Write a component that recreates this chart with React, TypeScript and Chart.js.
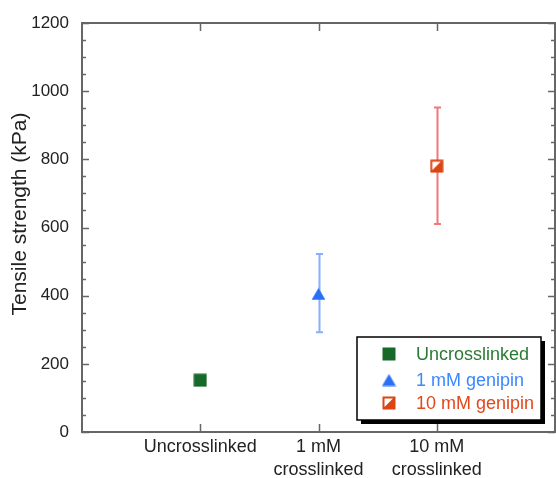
import React, { useEffect, useRef } from "react";
import { Chart, registerables } from "chart.js";

Chart.register(...registerables);

// ---- data ----
const categoryLabels: string[][] = [["Uncrosslinked"], ["1 mM", "crosslinked"], ["10 mM", "crosslinked"]];
const categoryPositions = [1, 2, 3];
const seriesNames = ["Uncrosslinked", "1 mM genipin", "10 mM genipin"];
const meanValues = [152, 405, 780];
const errorLow: (number | null)[] = [null, 293, 610];
const errorHigh: (number | null)[] = [null, 522, 952];
const yTickValues = [0, 200, 400, 600, 800, 1000, 1200];
const yMinorStep = 50;
const yTitle = "Tensile strength (kPa)";

// ---- styles ----
const markerColors = ["#17692a", "#2b6ff5", "#dc4410"];
const textColors = ["#2a7a34", "#3b88ff", "#e2481c"];
const errorColors = ["#6aa06a", "#86afff", "#f2787a"];
const FONT = "'Liberation Sans', Arial, Helvetica, sans-serif";
const frameColor = "#666";

function makeMarker(kind: number, color: string): HTMLCanvasElement {
  const c = document.createElement("canvas");
  if (kind === 0) {
    c.width = 14; c.height = 14;
    const g = c.getContext("2d")!;
    g.fillStyle = color;
    g.fillRect(0.5, 0.5, 13, 13);
  } else if (kind === 1) {
    c.width = 15; c.height = 13;
    const g = c.getContext("2d")!;
    g.fillStyle = color;
    g.beginPath();
    g.moveTo(7.5, 0.5);
    g.lineTo(14.5, 12.5);
    g.lineTo(0.5, 12.5);
    g.closePath();
    g.fill();
  } else {
    c.width = 14; c.height = 14;
    const g = c.getContext("2d")!;
    g.fillStyle = color;
    g.fillRect(0.5, 0.5, 13, 13);
    g.fillStyle = "#ffffff";
    g.beginPath();
    g.moveTo(2.5, 2.5);
    g.lineTo(11, 2.5);
    g.lineTo(2.5, 11);
    g.closePath();
    g.fill();
  }
  return c;
}

export default function App() {
  const ref = useRef<HTMLCanvasElement | null>(null);

  useEffect(() => {
    document.body.style.margin = "0";
    const canvas = ref.current!;
    const markers = markerColors.map((col, i) => makeMarker(i, col));

    const errorBars = {
      id: "errorBars",
      beforeDatasetsDraw(chart: any) {
        const { ctx, scales } = chart;
        const xs = scales.x, ys = scales.y;
        ctx.save();
        ctx.lineWidth = 2;
        categoryPositions.forEach((pos, i) => {
          const lo = errorLow[i], hi = errorHigh[i];
          if (lo == null || hi == null) return;
          const x = Math.round(xs.getPixelForValue(pos)) + 0.5;
          const y1 = ys.getPixelForValue(lo), y2 = ys.getPixelForValue(hi);
          ctx.strokeStyle = errorColors[i];
          ctx.beginPath();
          ctx.moveTo(x, y1); ctx.lineTo(x, y2);
          ctx.moveTo(x - 3.5, y1); ctx.lineTo(x + 3.5, y1);
          ctx.moveTo(x - 3.5, y2); ctx.lineTo(x + 3.5, y2);
          ctx.stroke();
        });
        ctx.restore();
      },
    };

    const frame = {
      id: "frame",
      beforeDatasetsDraw(chart: any) {
        const { ctx, chartArea: a, scales } = chart;
        const xs = scales.x, ys = scales.y;
        ctx.save();
        ctx.strokeStyle = frameColor;
        ctx.lineWidth = 2;
        ctx.strokeRect(a.left, a.top, a.right - a.left, a.bottom - a.top);
        ctx.lineWidth = 1.5;
        ctx.beginPath();
        for (let v = ys.min; v <= ys.max; v += yMinorStep) {
          const y = Math.round(ys.getPixelForValue(v)) + 0.5;
          const len = v % 200 === 0 ? 7 : 4;
          ctx.moveTo(a.left, y); ctx.lineTo(a.left + len, y);
          ctx.moveTo(a.right, y); ctx.lineTo(a.right - len, y);
        }
        categoryPositions.forEach((p) => {
          const x = Math.round(xs.getPixelForValue(p)) + 0.5;
          ctx.moveTo(x, a.bottom); ctx.lineTo(x, a.bottom - 8);
          ctx.moveTo(x, a.top); ctx.lineTo(x, a.top + 8);
        });
        ctx.stroke();
        // y-axis title
        ctx.translate(20, 214);
        ctx.rotate(-Math.PI / 2);
        ctx.font = `21px ${FONT}`;
        ctx.fillStyle = "#222";
        ctx.textAlign = "center";
        ctx.textBaseline = "middle";
        ctx.fillText(yTitle, 0, 0);
        ctx.restore();
      },
    };

    const legendBox = {
      id: "legendBox",
      afterDraw(chart: any) {
        const { ctx } = chart;
        const bx = 357, by = 337, bw = 184, bh = 83;
        ctx.save();
        ctx.fillStyle = "#000";
        ctx.fillRect(bx + 4, by + 4, bw, bh);
        ctx.fillStyle = "#fff";
        ctx.fillRect(bx, by, bw, bh);
        ctx.strokeStyle = "#000";
        ctx.lineWidth = 1.5;
        ctx.strokeRect(bx, by, bw, bh);
        ctx.font = `18px ${FONT}`;
        ctx.textBaseline = "middle";
        ctx.textAlign = "left";
        const rows = [354, 380, 403];
        seriesNames.forEach((name, i) => {
          const m = markers[i];
          ctx.drawImage(m, 389 - m.width / 2, rows[i] - m.height / 2);
          ctx.fillStyle = textColors[i];
          ctx.fillText(name, 416, rows[i] + 1);
        });
        ctx.restore();
      },
    };

    const chart = new Chart(canvas, {
      type: "scatter",
      data: {
        datasets: seriesNames.map((name, i) => ({
          label: name,
          data: [{ x: categoryPositions[i], y: meanValues[i] }],
          pointStyle: markers[i] as any,
          backgroundColor: markerColors[i],
          borderColor: markerColors[i],
        })),
      },
      options: {
        responsive: false,
        animation: false,
        layout: { autoPadding: false, padding: { top: 23, right: 1, left: 0, bottom: 0 } },
        plugins: {
          legend: { display: false },
          tooltip: { enabled: false },
        },
        scales: {
          x: {
            type: "linear",
            min: 0,
            max: 4,
            grid: { display: false, drawTicks: false },
            border: { display: false },
            afterBuildTicks: (s: any) => {
              s.ticks = categoryPositions.map((v) => ({ value: v }));
            },
            afterFit: (s: any) => {
              s.height = 46;
              s.paddingLeft = 0;
              s.paddingRight = 0;
            },
            ticks: {
              autoSkip: false,
              maxRotation: 0,
              padding: 4,
              color: "#222",
              font: { family: FONT, size: 18, lineHeight: 1.25 },
              callback: (v: any) => categoryLabels[categoryPositions.indexOf(Number(v))] ?? "",
            },
          },
          y: {
            min: 0,
            max: 1200,
            grid: { display: false, drawTicks: false },
            border: { display: false },
            afterBuildTicks: (s: any) => {
              s.ticks = yTickValues.map((v) => ({ value: v }));
            },
            afterFit: (s: any) => {
              s.width = 82;
              s.paddingTop = 0;
              s.paddingBottom = 0;
            },
            ticks: {
              padding: 13,
              color: "#222",
              font: { family: FONT, size: 17 },
              callback: (v: any) => String(v),
            },
          },
        },
      },
      plugins: [frame, errorBars, legendBox],
    });
    return () => chart.destroy();
  }, []);

  return (
    <div style={{ position: "fixed", left: 0, top: 0, width: 556, height: 478, background: "#fff" }}>
      <canvas ref={ref} width={556} height={478} style={{ display: "block" }} />
    </div>
  );
}
